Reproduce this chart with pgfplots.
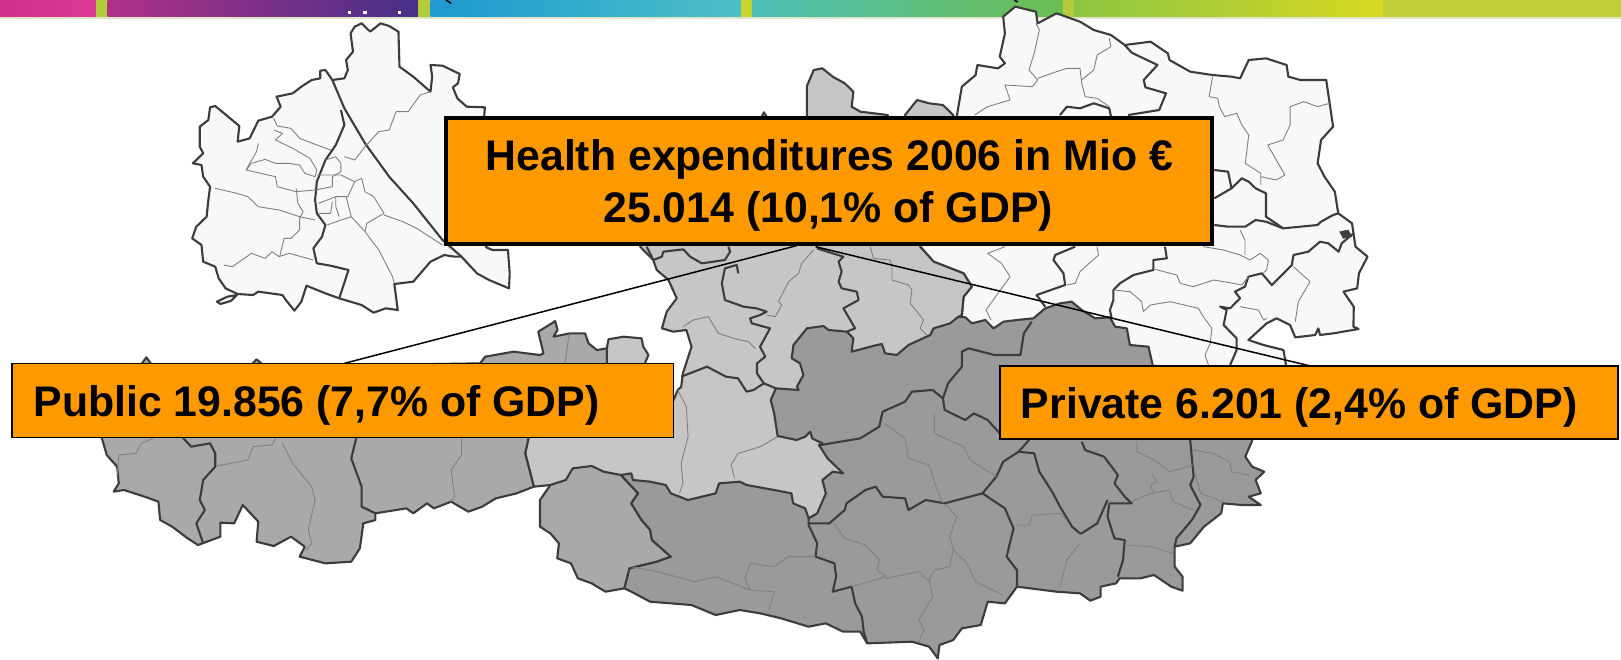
\documentclass[border=0pt]{standalone}
\usepackage{fontspec}
\setmainfont{Liberation Sans}
\usepackage{pgfplots}
\pgfplotsset{compat=1.18}
\definecolor{boxor}{HTML}{FF9900}
\definecolor{reg0}{HTML}{F8F8F8}
\definecolor{reg1}{HTML}{C6C6C6}
\definecolor{reg2}{HTML}{A9A9A9}
\definecolor{reg3}{HTML}{9A9A9A}
\definecolor{edge}{HTML}{3C3C3C}
\definecolor{inner}{HTML}{808080}
\definecolor{sep}{HTML}{B4CC3C}
\definecolor{sep2}{HTML}{CCD430}
\definecolor{pale}{HTML}{E0E4C8}
\definecolor{pinkA}{HTML}{D42E8C}
\definecolor{pinkB}{HTML}{DC3A92}
\definecolor{purpA}{HTML}{B0308A}
\definecolor{purpB}{HTML}{463088}
\definecolor{blueA}{HTML}{2098D0}
\definecolor{blueB}{HTML}{4CC0C8}
\definecolor{tealA}{HTML}{4CBFB8}
\definecolor{tealB}{HTML}{6CBE50}
\definecolor{lime}{HTML}{8CC644}
\definecolor{yell}{HTML}{D8D820}
\definecolor{yellb}{HTML}{C0D038}
\pgfplotsset{
  bd/.style={edge,line width=2.1pt,line join=round},
  tn/.style={inner,line width=0.9pt,line join=round},
  reg/.style={fill=#1,draw=edge,line width=2.1pt,line join=round},
  band/.style 2 args={draw=none,left color=#1,right color=#2},
}
\begin{document}
\begin{tikzpicture}
\begin{axis}[
  scale only axis,width=1621pt,height=659pt,
  xmin=0,xmax=4707,ymin=0,ymax=1977,
  y dir=reverse,hide axis,clip=true,
]
% background
\addplot[fill=white,draw=none] coordinates {(0,0) (4707,0) (4707,1977) (0,1977)} -- cycle;
% top band
\addplot[fill=pale,draw=none] coordinates {(0,48) (4707,48) (4707,56) (0,56)} -- cycle;
\addplot[band={pinkA}{pinkB}] coordinates {(0,0) (280,0) (280,50) (0,50)} -- cycle;
\addplot[fill=sep,draw=none] coordinates {(280,0) (312,0) (312,50) (280,50)} -- cycle;
\addplot[band={purpA}{purpB}] coordinates {(312,0) (1215,0) (1215,50) (312,50)} -- cycle;
\addplot[fill=sep,draw=none] coordinates {(1215,0) (1250,0) (1250,50) (1215,50)} -- cycle;
\addplot[band={blueA}{blueB}] coordinates {(1250,0) (2153,0) (2153,50) (1250,50)} -- cycle;
\addplot[fill=sep2,draw=none] coordinates {(2153,0) (2183,0) (2183,50) (2153,50)} -- cycle;
\addplot[band={tealA}{tealB}] coordinates {(2183,0) (3088,0) (3088,50) (2183,50)} -- cycle;
\addplot[fill=sep,draw=none] coordinates {(3088,0) (3118,0) (3118,50) (3088,50)} -- cycle;
\addplot[band={lime}{yell}] coordinates {(3118,0) (4016,0) (4016,50) (3118,50)} -- cycle;
\addplot[fill=yellb,draw=none] coordinates {(4016,0) (4707,0) (4707,50) (4016,50)} -- cycle;
\addplot[black,line width=1.6pt] coordinates {(1295,0) (1310,10)};
\addplot[black,line width=1.6pt] coordinates {(2945,0) (2955,6)};
\addplot[white,line width=2.5pt] coordinates {(1010,38) (1020,38)};
\addplot[white,line width=2.5pt] coordinates {(1055,38) (1065,38)};
\addplot[white,line width=2.5pt] coordinates {(1157,38) (1165,38)};
% upper right, north of the map
\addplot[reg=reg0] coordinates {
 (2778,350) (2793,260) (2833,225) (2838,195) (2898,205) (2918,190) (2903,170) (2918,100)
 (2913,50) (2948,20) (3008,35) (3013,70) (3068,40) (3136,65) (3176,90) (3226,105) (3266,135)
 (3341,125) (3391,160) (3396,180) (3456,215) (3521,225) (3576,230) (3601,235) (3626,180)
 (3676,175) (3736,195) (3741,230) (3776,240) (3851,240) (3861,310) (3871,380) (3836,420)
 (3826,490) (3846,530) (3876,575) (3886,640) (3926,670) (3936,740) (3971,770) (3946,820)
 (3941,865) (3901,875) (3931,920) (3930,980) (3945,987) (3872,1000) (3833,1005) (3828,985)
 (3819,1005) (3761,1012) (3746,975) (3707,955) (3678,970) (3625,1020) (3669,1035) (3727,1050)
 (3735,1100) (3000,1100) (2778,955) (2793,945) (2798,890) (2822,860) (2798,820) (2711,785)
 (2672,740) (2672,700) (2778,700)} -- cycle;
\addplot[fill=edge,draw=edge] coordinates {(3890,695) (3915,690) (3925,710) (3900,715)} -- cycle;
% thick lines, white part
\addplot[bd] coordinates {(3266,135) (3286,158) (3361,195) (3321,240) (3326,262) (3386,280) (3366,330) (3276,345)};
\addplot[bd] coordinates {(3078,345) (3098,320) (3136,325) (3176,310) (3221,325) (3226,350)};
\addplot[bd] coordinates {(3526,510) (3566,515) (3576,565) (3526,595)};
\addplot[bd] coordinates {(3576,565) (3606,535) (3626,545) (3646,565) (3676,580) (3676,650) (3726,685) (3776,680) (3826,675) (3836,665) (3871,645) (3886,640)};
\addplot[bd] coordinates {(3526,675) (3566,680) (3616,680) (3646,660) (3676,665) (3726,685)};
\addplot[bd] coordinates {(3930,700) (3896,730) (3887,755) (3857,730) (3833,725) (3799,755) (3756,765) (3751,795) (3693,855) (3664,820) (3625,830) (3615,860) (3586,875) (3601,895) (3572,925) (3543,920) (3562,930) (3553,975) (3591,1015) (3591,1050) (3572,1095)};
\addplot[bd] coordinates {(3122,740) (3064,765) (3059,780) (3088,820) (3093,855) (3010,885) (3035,920)};
\addplot[bd] coordinates {(3383,740) (3388,775) (3349,780) (3349,810) (3291,825) (3252,850) (3233,870) (3233,900) (3223,930) (3228,955)};
% thin lines, white part
\addplot[tn] coordinates {(2830,345) (2868,320) (2933,300) (2918,255) (2998,260) (3013,240) (2988,210) (3003,160) (3018,90) (3008,70)};
\addplot[tn] coordinates {(3013,235) (3068,215) (3098,205) (3136,205) (3141,250) (3151,290) (3186,295) (3221,320)};
\addplot[tn] coordinates {(3221,115) (3226,140) (3186,165) (3176,210) (3141,240)};
\addplot[tn] coordinates {(3521,230) (3511,290) (3536,295) (3541,320) (3556,350) (3591,340) (3606,375) (3626,405) (3616,490) (3661,520) (3661,555)};
\addplot[tn] coordinates {(3661,530) (3706,540) (3731,525) (3681,435) (3726,420) (3746,375) (3746,320) (3786,305) (3826,320) (3861,310)};
\addplot[tn] coordinates {(2918,740) (2868,760) (2908,790) (2933,830) (2898,880) (2863,930) (2878,960)};
\addplot[tn] coordinates {(3185,740) (3190,765) (3136,815) (3122,850) (3098,855)};
\addplot[tn] coordinates {(3354,808) (3417,825) (3427,850) (3465,860) (3524,840) (3582,850) (3606,855) (3625,830)};
\addplot[tn] coordinates {(3494,740) (3553,750) (3601,765) (3630,780) (3659,760) (3683,780) (3678,810) (3669,818)};
\addplot[tn] coordinates {(3601,690) (3615,720) (3615,765)};
\addplot[tn] coordinates {(3233,870) (3282,875) (3315,905) (3320,935) (3340,915) (3398,905) (3480,925) (3494,950) (3519,985) (3514,1030) (3499,1065) (3509,1095)};
\addplot[tn] coordinates {(3601,920) (3654,930) (3669,960) (3678,955)};
\addplot[tn] coordinates {(3756,800) (3804,845) (3770,905) (3761,965)};
% left inset
\addplot[reg=reg0] coordinates {
 (1018,100) (1030,80) (1050,70) (1075,95) (1105,70) (1130,78) (1157,95) (1160,200) (1200,230)
 (1250,275) (1255,230) (1250,195) (1285,197) (1335,222) (1330,250) (1315,262) (1328,295)
 (1355,320) (1408,322) (1405,360) (1412,742) (1430,750) (1475,750) (1480,820) (1478,865)
 (1420,840) (1385,820) (1340,770) (1320,770) (1290,765) (1250,785) (1200,845) (1145,852)
 (1155,930) (1120,925) (1085,938) (1050,915) (985,895) (945,880) (890,857) (875,905) (855,932)
 (830,900) (820,885) (750,875) (735,885) (690,882) (655,865) (635,835) (625,800) (590,785)
 (585,735) (558,715) (570,680) (600,650) (605,600) (610,560) (590,530) (585,495) (560,490)
 (590,460) (580,440) (580,380) (605,360) (610,322) (625,318) (695,378) (690,425) (725,415)
 (750,362) (790,350) (815,320) (803,290) (850,280) (875,260) (905,240) (930,235) (930,212)
 (945,210) (965,240) (1000,235) (1010,210) (1005,180) (1025,155)} -- cycle;
\addplot[reg=reg0] coordinates {(630,905) (660,890) (688,885) (670,903) (640,912)} -- cycle;
\addplot[bd] coordinates {(965,240) (1000,325) (1060,430) (1130,530) (1200,610) (1285,720) (1340,770)};
\addplot[bd] coordinates {(990,330) (1000,375) (975,435) (945,480) (920,545) (915,600) (920,640) (945,675) (935,710) (910,745) (920,790) (960,797) (1012,810) (985,895)};
\addplot[tn] coordinates {(795,355) (805,378) (845,385) (870,415) (920,435) (960,450)};
\addplot[tn] coordinates {(795,390) (820,400) (800,420) (850,445) (900,475) (920,510) (915,530) (885,520) (870,495) (840,490) (800,490) (770,478) (730,490) (715,510) (800,530) (805,560) (860,575) (915,570)};
\addplot[tn] coordinates {(750,430) (745,455) (725,490) (715,510)};
\addplot[tn] coordinates {(625,565) (680,578) (720,590) (750,620) (810,630) (870,650) (915,660)};
\addplot[tn] coordinates {(860,565) (865,610) (880,635) (870,655) (870,690) (845,715) (825,715) (812,770)};
\addplot[tn] coordinates {(650,795) (675,800) (730,760) (770,775) (790,755) (810,770) (840,760) (910,780)};
\addplot[tn] coordinates {(945,480) (975,470) (990,490) (990,515) (965,530) (965,560) (915,570)};
\addplot[tn] coordinates {(920,525) (990,525) (1030,545) (1010,590) (975,590) (925,610)};
\addplot[tn] coordinates {(1000,470) (1030,480) (1060,440) (1100,395) (1130,390) (1150,335) (1185,335) (1220,285) (1250,275)};
\addplot[tn] coordinates {(1030,545) (1050,535) (1060,575) (1085,590) (1115,640) (1065,670) (1060,695)};
\addplot[tn] coordinates {(1115,645) (1170,665) (1210,685) (1285,735)};
\addplot[tn] coordinates {(1005,590) (1020,650) (1060,695) (1100,750) (1140,830) (1145,850)};
\addplot[tn] coordinates {(1020,650) (990,660) (950,675)};
\addplot[tn] coordinates {(975,590) (975,620) (985,650)};
\addplot[tn] coordinates {(965,605) (960,640) (925,640)};
% light regions
\addplot[reg=reg1] coordinates {
 (2208,360) (2218,337) (2233,360) (2343,360) (2343,258) (2363,210) (2388,205) (2418,230) (2453,250)
 (2478,275) (2473,320) (2498,335) (2578,345) (2578,360) (2628,360) (2628,345) (2663,300) (2698,310)
 (2738,315) (2768,345) (2768,360) (2700,500) (2672,740) (2711,785) (2798,820) (2822,860) (2798,890)
 (2793,945) (2778,955) (2793,1000) (2400,1600) (1660,1500) (1598,1455) (1550,1460) (1535,1400)
 (1525,1360) (1535,1312) (1535,1200) (1956,1200) (1968,1170) (1978,1160) (1983,1120) (2008,1040)
 (1993,990) (1955,995) (1922,985) (1936,935) (1965,895) (1941,840) (1907,810) (1897,780) (1859,740) (1859,700)} -- cycle;
\addplot[bd] coordinates {(1878,740) (1897,780) (1922,770) (1926,755) (1984,748) (2004,770) (2038,790) (2105,780) (2120,755) (2115,740)};
\addplot[bd] coordinates {(2144,820) (2139,795) (2105,805) (2096,850) (2105,900) (2159,920) (2197,925) (2226,935) (2207,945) (2178,955) (2183,970) (2236,985) (2207,1040) (2222,1070) (2198,1090) (2198,1120) (2218,1150) (2253,1165)};
\addplot[bd] coordinates {(1978,1130) (2053,1100) (2108,1130) (2143,1135) (2168,1175) (2188,1170) (2218,1150)};
\addplot[bd] coordinates {(2372,745) (2449,770) (2435,785) (2444,815) (2435,845) (2444,865) (2488,875) (2493,900) (2449,925) (2469,960) (2483,985) (2459,995)};
\addplot[tn] coordinates {(2362,750) (2328,790) (2319,820) (2290,845) (2260,905) (2270,915) (2251,950) (2227,945)};
\addplot[tn] coordinates {(2527,740) (2536,775) (2585,780) (2590,800) (2590,840) (2638,855) (2648,870) (2643,910) (2682,960) (2672,985) (2691,1005)};
\addplot[tn] coordinates {(1984,980) (2013,960) (2057,950) (2086,1000) (2130,1015) (2173,1025) (2193,1045)};
\addplot[tn] coordinates {(1968,1170) (1993,1220) (1998,1310) (1978,1390) (1983,1450) (1973,1480)};
\addplot[tn] coordinates {(2258,1310) (2208,1340) (2143,1360) (2123,1395) (2133,1435)};
% western regions
\addplot[reg=reg2] coordinates {
 (295,1312) (310,1365) (340,1400) (345,1450) (330,1475) (360,1470) (420,1490) (460,1505) (465,1560)
 (500,1580) (545,1615) (575,1635) (640,1610) (640,1568) (680,1570) (705,1515) (750,1565) (745,1625)
 (795,1638) (845,1610) (885,1640) (870,1670) (945,1690) (1020,1685) (1045,1645) (1055,1570) (1090,1560)
 (1090,1540) (1180,1525) (1200,1540) (1240,1510) (1260,1525) (1310,1505) (1360,1535) (1400,1520)
 (1440,1495) (1500,1480) (1550,1460) (1535,1400) (1525,1360) (1535,1312) (1535,1200) (1810,1200)
 (1810,1080) (1762,1065) (1762,1045) (1733,1050) (1709,1030) (1699,1000) (1655,1000) (1607,1010)
 (1619,990) (1612,963) (1602,970) (1563,995) (1578,1060) (1568,1065) (1491,1055) (1409,1070) (1394,1090)
 (770,1100) (745,1078) (725,1100) (445,1100) (425,1072) (405,1100) (300,1100)} -- cycle;
\addplot[reg=reg1] coordinates {(1762,1045) (1767,1018) (1810,1010) (1863,1015) (1868,1040) (1883,1065) (1868,1100) (1762,1100)} -- cycle;
\addplot[bd] coordinates {(530,1312) (555,1340) (610,1330) (625,1360) (625,1400) (590,1440) (580,1500) (595,1530) (570,1570) (590,1630)};
\addplot[bd] coordinates {(1035,1312) (1020,1375) (1050,1460) (1050,1520) (1090,1540)};
\addplot[tn] coordinates {(630,1398) (720,1380) (735,1340) (790,1335) (800,1315)};
\addplot[tn] coordinates {(820,1330) (850,1390) (905,1460) (915,1500) (895,1590) (905,1630) (890,1650)};
\addplot[tn] coordinates {(1340,1315) (1340,1365) (1310,1410) (1320,1490) (1310,1505)};
\addplot[tn] coordinates {(340,1430) (345,1365) (395,1360) (410,1330) (445,1315)};
\addplot[tn] coordinates {(1641,1090) (1650,1020) (1655,1002)};
\addplot[reg=reg2] coordinates {
 (1568,1500) (1598,1455) (1643,1440) (1663,1405) (1718,1398) (1753,1415) (1803,1425) (1853,1480)
 (1833,1510) (1863,1560) (1888,1590) (1893,1620) (1948,1670) (1908,1685) (1828,1705) (1813,1765)
 (1758,1775) (1718,1750) (1678,1735) (1658,1690) (1618,1675) (1623,1630) (1598,1600) (1568,1580)} -- cycle;
% dark regions
\addplot[reg=reg3] coordinates {
 (1803,1425) (1833,1420) (1838,1440) (1888,1445) (1933,1455) (1948,1480) (1998,1500) (2078,1480)
 (2088,1450) (2148,1445) (2168,1455) (2248,1470) (2298,1480) (2303,1510) (2338,1525) (2348,1555)
 (2373,1540) (2398,1480) (2388,1440) (2418,1415) (2448,1420) (2428,1400) (2403,1375) (2378,1335)
 (2388,1330) (2358,1315) (2353,1295) (2338,1310) (2313,1320) (2258,1308) (2248,1240) (2238,1200)
 (2253,1165) (2319,1170) (2314,1160) (2333,1125) (2323,1090) (2299,1075) (2304,1035) (2343,985)
 (2391,978) (2406,990) (2459,995) (2478,1015) (2473,1055) (2546,1035) (2561,1032) (2570,1060)
 (2604,1065) (2638,1035) (2701,1005) (2711,985) (2759,970) (2783,950) (2803,952) (2822,970)
 (2861,960) (2885,985) (2914,965) (2953,960) (3001,955) (3035,925) (3078,910) (3112,905) (3141,930)
 (3180,955) (3223,952) (3238,980) (3272,985) (3281,1035) (3335,1040) (3347,1095) (3347,1110)
 (3636,1110) (3636,1322) (3616,1370) (3636,1400) (3671,1415) (3646,1440) (3661,1480) (3626,1490)
 (3661,1515) (3606,1515) (3551,1510) (3546,1540) (3496,1580) (3456,1630) (3411,1640) (3411,1700)
 (3434,1730) (3434,1772) (3401,1760) (3351,1725) (3311,1735) (3251,1735) (3241,1750) (3196,1760)
 (3196,1790) (3166,1802) (3136,1780) (3068,1775) (2953,1760) (2918,1810) (2868,1805) (2848,1875)
 (2793,1885) (2768,1920) (2728,1935) (2723,1975) (2698,1940) (2648,1925) (2518,1930) (2498,1895)
 (2448,1895) (2398,1870) (2348,1880) (2268,1855) (2208,1840) (2148,1830) (2078,1845) (2008,1815)
 (1888,1805) (1833,1775) (1813,1765) (1828,1705) (1908,1685) (1948,1670) (1893,1620) (1888,1590)
 (1863,1560) (1833,1510) (1853,1480)} -- cycle;
\addplot[bd] coordinates {(2348,1555) (2348,1575) (2373,1630) (2368,1670) (2423,1690) (2428,1730) (2418,1775) (2473,1760) (2483,1810) (2503,1850) (2508,1895) (2518,1930)};
\addplot[bd] coordinates {(2348,1570) (2408,1570) (2453,1530) (2458,1510) (2513,1470) (2543,1460) (2563,1490) (2628,1495) (2638,1530) (2688,1500) (2743,1510) (2853,1480) (2918,1525) (2943,1585) (2923,1670) (2953,1710) (2953,1760)};
\addplot[bd] coordinates {(2383,1335) (2498,1315) (2553,1280) (2563,1235) (2628,1205) (2648,1175) (2708,1170) (2738,1195) (2753,1150) (2793,1100) (2793,1055) (2813,1045) (2888,1065) (2963,1065) (2973,1000) (2996,965)};
\addplot[bd] coordinates {(2738,1195) (2743,1230) (2803,1260) (2828,1240) (2868,1260) (2903,1300)};
\addplot[bd] coordinates {(2853,1480) (2893,1430) (2913,1385) (2958,1355) (3003,1360) (3018,1415) (3058,1480) (3078,1520) (3113,1580) (3136,1600)};
\addplot[bd] coordinates {(2958,1355) (2988,1320)};
\addplot[bd] coordinates {(3141,1325) (3151,1350) (3206,1370) (3246,1425) (3236,1450) (3266,1490) (3286,1510) (3221,1510)};
\addplot[bd] coordinates {(3221,1510) (3216,1550) (3236,1615) (3266,1620) (3261,1680) (3246,1730)};
\addplot[bd] coordinates {(3216,1500) (3186,1570) (3141,1600) (3136,1600)};
\addplot[bd] coordinates {(3456,1320) (3466,1430) (3456,1455) (3486,1515) (3461,1560) (3416,1615) (3411,1640)};
\addplot[tn] coordinates {(3301,1325) (3301,1355) (3351,1380) (3366,1390) (3396,1415) (3466,1395)};
\addplot[tn] coordinates {(3461,1350) (3521,1360) (3571,1385) (3576,1415) (3626,1425)};
\addplot[tn] coordinates {(3471,1420) (3486,1480) (3551,1505)};
\addplot[tn] coordinates {(3286,1505) (3341,1480) (3396,1470) (3406,1505) (3466,1530)};
\addplot[tn] coordinates {(3346,1425) (3361,1445) (3341,1455) (3351,1485)};
\addplot[tn] coordinates {(3266,1635) (3341,1640) (3406,1660)};
\addplot[tn] coordinates {(2568,1270) (2628,1315) (2638,1375) (2698,1395) (2718,1460) (2738,1510)};
\addplot[tn] coordinates {(2713,1240) (2713,1300) (2798,1340) (2818,1380) (2893,1430)};
\addplot[tn] coordinates {(2748,1515) (2778,1550) (2758,1610) (2768,1650) (2808,1690) (2833,1745) (2913,1785)};
\addplot[tn] coordinates {(2768,1650) (2758,1700) (2713,1710) (2698,1740) (2708,1790) (2668,1860) (2683,1890) (2668,1925)};
\addplot[tn] coordinates {(2418,1565) (2453,1615) (2513,1635) (2553,1680) (2548,1710) (2573,1730) (2473,1760)};
\addplot[tn] coordinates {(2573,1735) (2668,1715) (2698,1745)};
\addplot[tn] coordinates {(2943,1575) (2988,1575) (2998,1545) (3078,1540) (3098,1560)};
\addplot[tn] coordinates {(3136,1630) (3098,1680) (3078,1760)};
\addplot[tn] coordinates {(1833,1700) (1908,1715) (2018,1745) (2078,1730) (2178,1770) (2248,1775) (2233,1830)};
\addplot[tn] coordinates {(2178,1770) (2163,1735) (2178,1690) (2248,1700) (2288,1670) (2368,1670)};
% leader lines
\addplot[black,line width=1.5pt] coordinates {(1000,1090) (2313,737)};
\addplot[black,line width=1.5pt] coordinates {(2368,740) (3801,1097)};
% boxes
\addplot[fill=boxor,draw=black,line width=3.8pt] coordinates {(1295,354) (3520,354) (3520,732) (1295,732)} -- cycle;
\addplot[fill=boxor,draw=black,line width=1.5pt] coordinates {(35,1091) (1956,1091) (1956,1312) (35,1312)} -- cycle;
\addplot[fill=boxor,draw=black,line width=2pt] coordinates {(2903,1098) (4698,1098) (4698,1317) (2903,1317)} -- cycle;
\node[anchor=base,inner sep=0pt] at (axis cs:2408,510) {\fontsize{42.8}{50}\selectfont\bfseries Health expenditures 2006 in Mio €};
\node[anchor=base,inner sep=0pt] at (axis cs:2405,668) {\fontsize{42.8}{50}\selectfont\bfseries 25.014 (10,1\% of GDP)};
\node[anchor=base west,inner sep=0pt] at (axis cs:97,1250) {\fontsize{42.8}{50}\selectfont\bfseries Public 19.856 (7,7\% of GDP)};
\node[anchor=base west,inner sep=0pt] at (axis cs:2964,1255) {\fontsize{42.8}{50}\selectfont\bfseries Private 6.201 (2,4\% of GDP)};
\end{axis}
\end{tikzpicture}
\end{document}
